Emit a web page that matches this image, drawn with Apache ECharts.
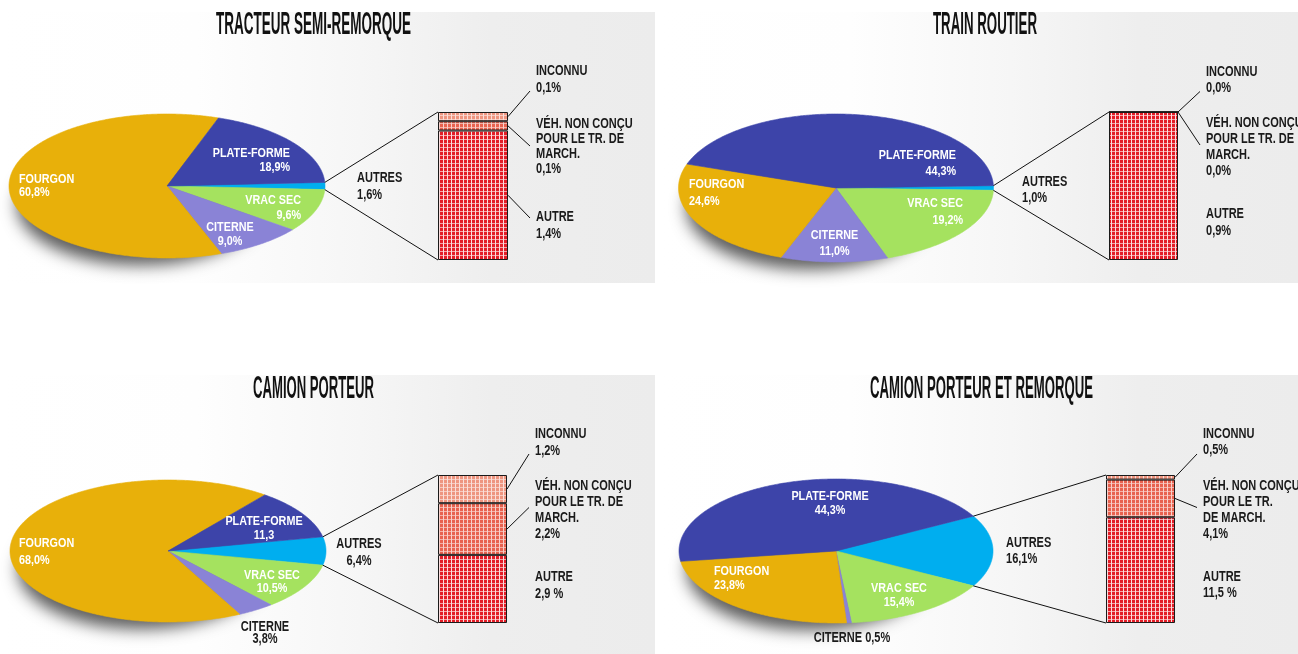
<!DOCTYPE html>
<html>
<head>
<meta charset="utf-8">
<script src="https://cdn.jsdelivr.net/npm/echarts@6/dist/echarts.min.js"></script>
<style>html,body{margin:0;padding:0;background:#fff;}#c{width:1298px;height:654px;}</style>
</head>
<body>
<div id="c"></div>
<script>
// ---------------- DATA ----------------
const titles = ['TRACTEUR SEMI-REMORQUE', 'TRAIN ROUTIER', 'CAMION PORTEUR', 'CAMION PORTEUR ET REMORQUE'];
// pie slices, clockwise starting at the "AUTRES" slice (centred on the right)
const pieCategories = ['AUTRES', 'VRAC SEC', 'CITERNE', 'FOURGON', 'PLATE-FORME'];
const tracteurPie = [1.6, 9.6, 9.0, 60.8, 18.9];
const trainPie = [1.0, 19.2, 11.0, 24.6, 44.3];
const camionPie = [6.4, 10.5, 3.8, 68.0, 11.3];
const camionRemPie = [16.1, 15.4, 0.5, 23.8, 44.3];
const tracteurPieLabels = ['1,6%', '9,6%', '9,0%', '60,8%', '18,9%'];
const trainPieLabels = ['1,0%', '19,2%', '11,0%', '24,6%', '44,3%'];
const camionPieLabels = ['6,4%', '10,5%', '3,8%', '68,0%', '11,3'];
const camionRemPieLabels = ['16,1%', '15,4%', '0,5%', '23,8%', '44,3%'];
// "AUTRES" breakdown bar, bottom to top
const barCategories = ['AUTRE', 'VÉH. NON CONÇU POUR LE TR. DE MARCH.', 'INCONNU'];
const tracteurBar = [1.4, 0.1, 0.1];
const trainBar = [0.9, 0.0, 0.0];
const camionBar = [2.9, 2.2, 1.2];
const camionRemBar = [11.5, 4.1, 0.5];
const tracteurBarLabels = ['1,4%', '0,1%', '0,1%'];
const trainBarLabels = ['0,9%', '0,0%', '0,0%'];
const camionBarLabels = ['2,9 %', '2,2%', '1,2%'];
const camionRemBarLabels = ['11,5 %', '4,1%', '0,5%'];
const barLabelNames = ['AUTRE', 'VÉH. NON CONÇU\nPOUR LE TR. DE\nMARCH.', 'INCONNU'];
const barLabelNames4 = ['AUTRE', 'VÉH. NON CONÇU\nPOUR LE TR.\nDE MARCH.', 'INCONNU'];

// ---------------- STYLE / LAYOUT ----------------
const pieColors = ['#00aeef', '#a5e25f', '#8a83d6', '#e8b00a', '#3d44a9'];
const FONT_IN = 'bold 13.5px "Liberation Sans", Arial, sans-serif';
const FONT_OUT = 'bold 14.5px "Liberation Sans", Arial, sans-serif';
const SX_IN = 0.8, SX_OUT = 0.76;

function lab(dx, dy, align, lh, dark, inline) { return {dx, dy, align, lh, dark: !!dark, inline: !!inline}; }

const layouts = [
  { bg: [0, 12, 655, 271], title: [313.5, 25, 195],
    pie: {cx: 167, cy: 186, rx: 158, ry: 72},
    bar: {x: 438, y: 112, w: 70, h: 148},
    pieLab: [lab(190, 0.5, 'left', 16.5, 1), lab(134, 22, 'right', 14.5), lab(63, 48.5, 'center', 14), lab(-148, 0, 'left', 12.8), lab(123, -26, 'right', 13.7)],
    barLabDy: [105, 12, -41], barLabLh: [16.5, 15, 16.5], leaders: [true, true, true], leadDy: [1, 22, 20] },
  { bg: [660, 12, 638, 271], title: [985, 25, 104],
    pie: {cx: 836, cy: 188, rx: 157.5, ry: 74},
    bar: {x: 1109, y: 112, w: 69, h: 148},
    pieLab: [lab(186, 2, 'left', 16, 1), lab(127, 24, 'right', 16.6), lab(-1.5, 55, 'center', 16), lab(-147, 5, 'left', 16.6), lab(120, -25, 'right', 16.3)],
    barLabDy: [102, 11, -40.5], barLabLh: [16.5, 16, 16.3], leaders: [false, true, true], leadDy: [1, 22, 20] },
  { bg: [0, 375, 655, 279], title: [313.5, 389, 121],
    pie: {cx: 168, cy: 551, rx: 158, ry: 71},
    bar: {x: 438, y: 475, w: 69, h: 148},
    pieLab: [lab(191, 1.5, 'center', 17, 1), lab(104, 31, 'center', 12.7), lab(97, 81.5, 'center', 12, 1), lab(-149, 1, 'left', 17), lab(96, -23, 'center', 13.7)],
    barLabDy: [102, 10.5, -41], barLabLh: [16.7, 16, 16.5], leaders: [false, true, true], leadDy: [1, 22, 20] },
  { bg: [660, 375, 638, 279], title: [981.5, 389, 223],
    pie: {cx: 836, cy: 551, rx: 157, ry: 72},
    bar: {x: 1106, y: 475, w: 69, h: 148},
    pieLab: [lab(170, 0, 'left', 16.5, 1), lab(63, 44.7, 'center', 14), lab(16, 87, 'center', 14, 1, 1), lab(-122, 27.4, 'left', 14), lab(-6, -47.5, 'center', 13.8)],
    barLabDy: [102, 10.5, -41], barLabLh: [16, 16, 16], leaders: [false, true, true], leadDy: [1, 22, 20] }
];

const panels = [
  {pie: tracteurPie, pieLabels: tracteurPieLabels, bar: tracteurBar, barLabels: tracteurBarLabels, barNames: barLabelNames},
  {pie: trainPie, pieLabels: trainPieLabels, bar: trainBar, barLabels: trainBarLabels, barNames: barLabelNames},
  {pie: camionPie, pieLabels: camionPieLabels, bar: camionBar, barLabels: camionBarLabels, barNames: barLabelNames},
  {pie: camionRemPie, pieLabels: camionRemPieLabels, bar: camionRemBar, barLabels: camionRemBarLabels, barNames: barLabelNames4}
];
panels.forEach((p, i) => { p.title = titles[i]; p.L = layouts[i]; });

function makePattern(base, vline, hline, w, h) {
  const c = document.createElement('canvas');
  c.width = w; c.height = h;
  const g = c.getContext('2d');
  g.fillStyle = base; g.fillRect(0, 0, w, h);
  g.fillStyle = vline; g.fillRect(w - 1, 0, 1, h);
  g.fillStyle = hline; g.fillRect(0, h - 1, w - 1, 1);
  return {image: c, repeat: 'repeat'};
}
const barPatterns = [
  makePattern('#e31d27', 'rgba(255,255,255,0.85)', 'rgba(255,255,255,0.6)', 4, 4),
  makePattern('#e8624f', 'rgba(255,255,255,0.7)', 'rgba(255,255,255,0.5)', 4, 4),
  makePattern('#ee9580', 'rgba(255,255,255,0.7)', 'rgba(255,255,255,0.5)', 4, 4)
];

// ---------------- CHART ----------------
const chart = echarts.init(document.getElementById('c'), null, {renderer: 'canvas'});
const grid = [], xAxis = [], yAxis = [], series = [];

panels.forEach((p, i) => {
  const L = p.L;
  const pg = grid.length;
  grid.push({left: L.pie.cx - L.pie.rx, top: L.pie.cy - L.pie.ry, width: 2 * L.pie.rx, height: 2 * L.pie.ry});
  xAxis.push({type: 'value', gridIndex: pg, min: -1, max: 1, show: false});
  yAxis.push({type: 'value', gridIndex: pg, min: -1, max: 1, show: false});
  const bg = grid.length;
  grid.push({left: L.bar.x, top: L.bar.y, width: L.bar.w, height: L.bar.h});
  xAxis.push({type: 'category', gridIndex: bg, data: ['AUTRES'], show: false});
  yAxis.push({type: 'value', gridIndex: bg, min: 0, max: 'dataMax', show: false});

  const vals = p.pie;
  const sum = vals.reduce((a, b) => a + b, 0);
  // shadow under the pie
  series.push({
    type: 'custom', xAxisIndex: pg, yAxisIndex: pg, z: 1, silent: true, clip: false,
    data: [0],
    renderItem: function (params, api) {
      const pts = [];
      for (let k = 0; k <= 120; k++) {
        const t = k / 120 * Math.PI * 2;
        const q = api.coord([-0.17 + 0.78 * Math.cos(t), -0.26 + 0.84 * Math.sin(t)]);
        pts.push([q[0] - 3000, q[1]]);
      }
      return {type: 'polygon', shape: {points: pts},
        style: {fill: 'rgba(0,0,0,0.85)', shadowBlur: 16, shadowColor: 'rgba(0,0,0,0.75)', shadowOffsetX: 3000, shadowOffsetY: 0}};
    }
  });
  // pie slices
  series.push({
    type: 'custom', xAxisIndex: pg, yAxisIndex: pg, z: 3, silent: true, clip: false,
    data: vals,
    renderItem: function (params, api) {
      const i2 = params.dataIndex;
      let before = 0;
      for (let k = 0; k < i2; k++) before += vals[k];
      const half = vals[0] / sum * Math.PI;
      const t0 = half - before / sum * 2 * Math.PI;
      const t1 = t0 - api.value(0) / sum * 2 * Math.PI;
      const c = api.coord([0, 0]);
      const pts = [c];
      const n = Math.max(2, Math.ceil((t0 - t1) / 0.01));
      for (let k = 0; k <= n; k++) {
        const t = t0 + (t1 - t0) * k / n;
        pts.push(api.coord([Math.cos(t), Math.sin(t)]));
      }
      const lb = L.pieLab[i2];
      const txt = pieCategories[i2] + (lb.inline ? ' ' : '\n') + p.pieLabels[i2];
      return {type: 'group', children: [
        {type: 'polygon', shape: {points: pts}, style: {fill: pieColors[i2], stroke: pieColors[i2], lineWidth: 0.6}},
        {type: 'text', x: c[0] + lb.dx, y: c[1] + lb.dy, scaleX: lb.dark ? SX_OUT : SX_IN, z2: 20,
          style: {text: txt, fill: lb.dark ? '#1a1a1a' : '#ffffff', font: lb.dark ? FONT_OUT : FONT_IN,
            align: lb.align, textAlign: lb.align, verticalAlign: 'middle', textVerticalAlign: 'middle', lineHeight: lb.lh}}
      ]};
    }
  });
  // stacked AUTRES breakdown bar
  p.bar.forEach((v, k) => {
    series.push({
      type: 'bar', name: barCategories[k], xAxisIndex: bg, yAxisIndex: bg, stack: 'autres' + i,
      barWidth: '100%', z: 3, silent: true, data: [v],
      itemStyle: {color: barPatterns[k], borderColor: '#1a1a1a', borderWidth: 1}
    });
  });
});

chart.setOption({animation: false, grid, xAxis, yAxis, series});

// ---------------- DECORATION (backgrounds, titles, connectors, bar labels) ----------------
const measureCtx = document.createElement('canvas').getContext('2d');
const TITLE_FONT = 'bold 32px "Liberation Sans", Arial, sans-serif';
measureCtx.font = TITLE_FONT;

const graphics = [];
panels.forEach((p, i) => {
  const L = p.L;
  graphics.push({type: 'rect', z: -10, silent: true,
    shape: {x: L.bg[0], y: L.bg[1], width: L.bg[2], height: L.bg[3]},
    style: {fill: {type: 'linear', x: 0, y: 0, x2: 1, y2: 0, colorStops: [
      {offset: 0, color: '#ffffff'}, {offset: 0.3, color: '#fefefe'}, {offset: 0.55, color: '#f6f6f6'},
      {offset: 0.75, color: '#eeeeee'}, {offset: 1, color: '#ececec'}]}}});
  const tw = measureCtx.measureText(p.title).width;
  graphics.push({type: 'text', z: 20, silent: true, x: L.title[0], y: L.title[1], scaleX: L.title[2] / tw,
    style: {text: p.title, font: TITLE_FONT, fill: '#111111', align: 'center', textAlign: 'center',
      verticalAlign: 'middle', textVerticalAlign: 'middle'}});

  const pg = 2 * i, bgi = 2 * i + 1;
  const sum = p.pie.reduce((a, b) => a + b, 0);
  const half = p.pie[0] / sum * Math.PI;
  const up = chart.convertToPixel({gridIndex: pg}, [Math.cos(half), Math.sin(half)]);
  const dn = chart.convertToPixel({gridIndex: pg}, [Math.cos(half), -Math.sin(half)]);
  const total = p.bar.reduce((a, b) => a + b, 0);
  const topC = chart.convertToPixel({gridIndex: bgi}, [0, total]);
  const botC = chart.convertToPixel({gridIndex: bgi}, [0, 0]);
  const hw = L.bar.w / 2;
  const left = topC[0] - hw, right = topC[0] + hw;
  graphics.push({type: 'line', z: 20, silent: true, shape: {x1: up[0], y1: up[1], x2: left, y2: topC[1]}, style: {stroke: '#111', lineWidth: 1}});
  graphics.push({type: 'line', z: 20, silent: true, shape: {x1: dn[0], y1: dn[1], x2: left, y2: botC[1]}, style: {stroke: '#111', lineWidth: 1}});

  const labelX = right + 28;
  let cum = 0;
  p.bar.forEach((v, k) => {
    const y0 = chart.convertToPixel({gridIndex: bgi}, [0, cum])[1];
    const y1 = chart.convertToPixel({gridIndex: bgi}, [0, cum + v])[1];
    cum += v;
    const mid = (y0 + y1) / 2;
    const first = topC[1] + L.barLabDy[k];
    const lh = L.barLabLh[k];
    graphics.push({type: 'text', z: 20, silent: true, x: labelX, y: first - lh / 2, scaleX: SX_OUT,
      style: {text: p.barNames[k] + '\n' + p.barLabels[k], font: FONT_OUT, fill: '#1a1a1a',
        align: 'left', textAlign: 'left', verticalAlign: 'top', textVerticalAlign: 'top', lineHeight: lh}});
    if (L.leaders[k]) {
      graphics.push({type: 'line', z: 20, silent: true,
        shape: {x1: right, y1: mid, x2: labelX - 6, y2: first + L.leadDy[k]}, style: {stroke: '#111', lineWidth: 1}});
    }
  });
});

chart.setOption({graphic: {elements: graphics}});
</script>
</body>
</html>
